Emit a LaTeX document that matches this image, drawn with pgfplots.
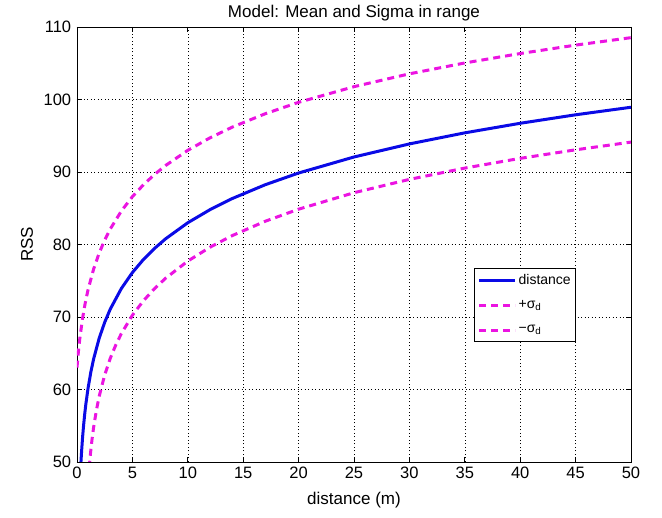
\documentclass[border=0pt]{standalone}
\usepackage{fontspec}
\setmainfont{Liberation Sans}
\usepackage{pgfplots}
\pgfplotsset{compat=1.18}
\definecolor{mblue}{RGB}{10,10,230}
\definecolor{mmag}{RGB}{235,20,225}
\begin{document}
\fontsize{17}{19}\selectfont
\begin{tikzpicture}
\begin{axis}[
  scale only axis,
  width=554pt, height=435pt,
  xmin=0, xmax=50, ymin=50, ymax=110,
  xtick={0,5,...,50}, ytick={50,60,...,110},
  /pgf/number format/assume math mode=true,
  tick label style={font=\fontsize{16.5}{18}\selectfont},
  xticklabel style={yshift=1pt},
  tick align=inside, tickpos=both,
  major tick length=5pt,
  tick style={black, line width=0.6pt},
  axis line style={black, line width=0.8pt},
  grid=major,
  major grid style={black, line width=0.5pt, dash pattern=on 1pt off 2.5pt},
  title={Model: Mean and Sigma in range},
  title style={at={(axis description cs:0.5,1.019)}, anchor=center, inner sep=0pt, font=\fontsize{17}{19}\selectfont},
  xlabel={distance (m)},
  xlabel style={at={(axis description cs:0.5,-0.087)}, anchor=center, font=\fontsize{17}{19}\selectfont},
  ylabel={RSS},
  ylabel style={at={(axis description cs:-0.09,0.5)}, anchor=center, font=\fontsize{17}{19}\selectfont},
  legend style={at={(rel axis cs:0.717,0.447)}, anchor=north west, draw=black, line width=0.8pt,
    font=\fontsize{14}{15}\selectfont, inner xsep=3pt, inner ysep=4pt, row sep=10pt,
    cells={anchor=west}},
  legend image code/.code={\draw[#1] (0pt,0pt) -- (36pt,0pt);},
  clip=true,
]
\addplot[mblue, line width=3pt] coordinates {
(0.34,49.52) (0.4,51.13) (0.5,53.34) (0.6,55.14) (0.7,56.67) (0.8,57.99) (1,60.2)
(1.25,62.41) (1.5,64.21) (2,67.06) (2.5,69.27) (3,71.08) (4,73.92) (5,76.13)
(6,77.94) (7,79.46) (8,80.79) (10,83.00) (12,84.80) (14,86.33) (17,88.25)
(20,89.86) (25,92.07) (30,93.87) (35,95.40) (40,96.72) (45,97.89) (50,98.93)
};
\addlegendentry{distance}
\addplot[mmag, line width=3pt, dash pattern=on 7pt off 5pt] coordinates {
(0,63.03) (0.1,64.81) (0.25,66.98) (0.5,69.80) (0.75,71.99) (1,73.78) (1.5,76.61)
(2,78.81) (2.5,80.61) (3,82.13) (4,84.61) (5,86.60) (6,88.25) (7,89.66) (8,90.90)
(10,92.99) (12,94.71) (14,96.18) (17,98.04) (20,99.61) (25,101.77) (30,103.54)
(35,105.04) (40,106.34) (45,107.50) (50,108.53)
};
\addlegendentry{+σ\textsubscript{d}}
\addplot[mmag, line width=3pt, dash pattern=on 7pt off 5pt] coordinates {
(1.1,49.21) (1.2,50.93) (1.35,53.04) (1.5,54.78) (1.75,57.14) (2,59.04) (2.5,62.01)
(3,64.29) (3.5,66.14) (4,67.70) (5,70.24) (6,72.25) (7,73.92) (8,75.35) (10,77.71)
(12,79.62) (14,81.22) (17,83.21) (20,84.87) (25,87.14) (30,88.98) (35,90.54)
(40,91.88) (45,93.06) (50,94.12)
};
\addlegendentry{−σ\textsubscript{d}}
\end{axis}
\pgfresetboundingbox
\path (current axis.south west) ++(-77pt,-56pt) rectangle ++(662pt,518pt);
\end{tikzpicture}
\end{document}
